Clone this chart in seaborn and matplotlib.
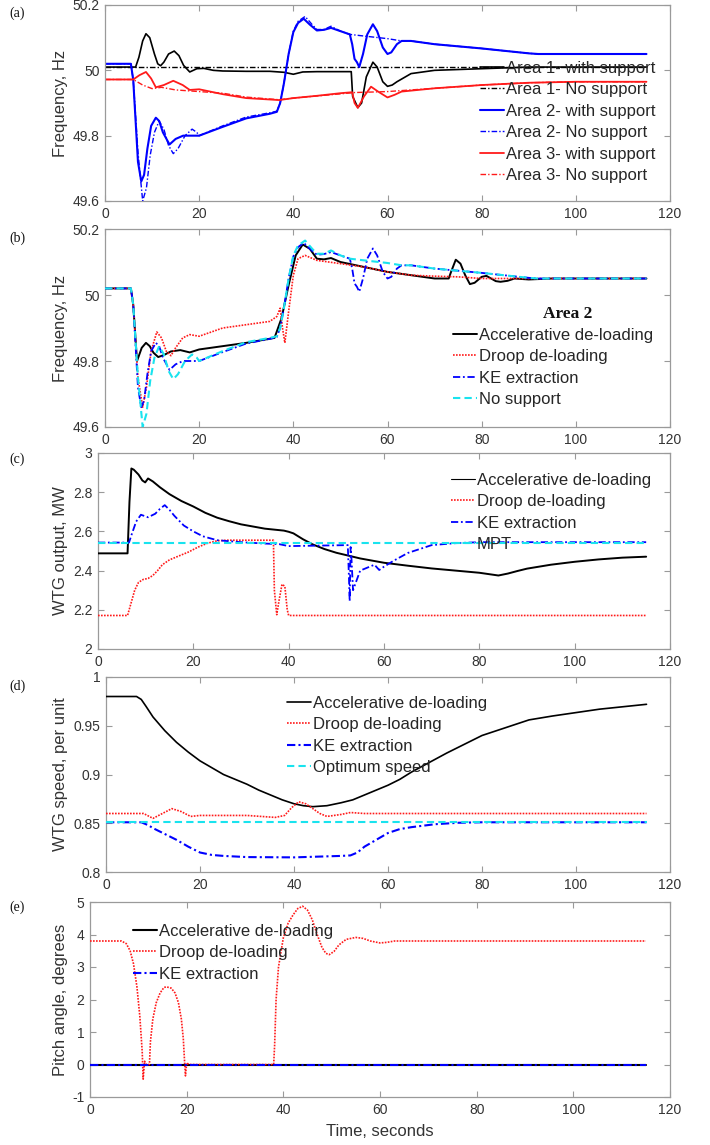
import matplotlib
matplotlib.use("Agg")
import matplotlib.pyplot as plt
import seaborn as sns

sns.set_style("white")
plt.rcParams["font.family"] = ["Liberation Sans", "DejaVu Sans"]

# ---------------- (a) frequency of the three areas ----------------
t_a1_with = [0, 6.5, 7.2, 8.0, 8.7, 9.5, 10.5, 11.2, 11.8, 12.5, 13.5, 14.7, 15.7, 16.7, 18, 19.5, 21, 23, 25,
             30, 35, 38, 40, 42, 45, 50, 52.3, 52.6, 53.7, 54.5, 55.5, 56.9, 57.8, 59, 60, 61, 62, 65, 70, 80,
             90, 115]
f_a1_with = [50.01, 50.01, 50.04, 50.09, 50.112, 50.10, 50.05, 50.02, 50.014, 50.025, 50.05, 50.059, 50.045,
             50.015, 49.995, 50.005, 50.006, 50.0, 49.998, 49.997, 49.997, 49.994, 49.988, 49.995, 49.996,
             49.996, 49.996, 49.92, 49.886, 49.90, 49.98, 50.025, 50.01, 49.965, 49.951, 49.955, 49.965,
             49.99, 50.0, 50.005, 50.01, 50.01]
t_a1_none = [0, 115]
f_a1_none = [50.01, 50.01]

t_a2_with = [0, 5.5, 6.0, 7.0, 7.7, 8.3, 9.0, 9.8, 10.8, 11.5, 12.3, 13.7, 15, 16.6, 18, 20, 25, 30, 35, 36.5,
             37.2, 38, 39, 40, 41, 42.2, 43.5, 45, 46.5, 48, 50, 52, 52.5, 53, 53.5, 54, 54.8, 55.7, 56.9,
             57.8, 59, 60, 60.8, 62, 63, 65, 70, 80, 90, 92, 115]
f_a2_with = [50.02, 50.02, 49.97, 49.72, 49.66, 49.68, 49.76, 49.83, 49.855, 49.845, 49.81, 49.773, 49.79,
             49.80, 49.80, 49.80, 49.827, 49.853, 49.867, 49.873, 49.90, 49.96, 50.05, 50.117, 50.145,
             50.158, 50.14, 50.122, 50.124, 50.13, 50.12, 50.11, 50.08, 50.035, 50.025, 50.01, 50.05,
             50.11, 50.141, 50.12, 50.07, 50.05, 50.055, 50.08, 50.09, 50.09, 50.08, 50.067, 50.052, 50.05,
             50.05]
t_a2_none = [0, 5.5, 6.0, 7.0, 8.0, 8.8, 9.6, 10.5, 11.5, 12.5, 13.5, 14.5, 15.5, 17, 18.5, 19.5, 20, 25, 30,
             35, 36.5, 37.2, 38, 39, 40, 41, 42.5, 44, 45, 46.5, 48, 50, 52, 55, 60, 63, 65, 70, 80, 90,
             92, 115]
f_a2_none = [50.02, 50.02, 49.97, 49.75, 49.60, 49.64, 49.74, 49.81, 49.845, 49.82, 49.77, 49.745, 49.76,
             49.80, 49.82, 49.81, 49.80, 49.83, 49.857, 49.87, 49.875, 49.90, 49.96, 50.05, 50.12, 50.15,
             50.165, 50.14, 50.125, 50.125, 50.135, 50.12, 50.11, 50.105, 50.097, 50.09, 50.09, 50.08,
             50.067, 50.052, 50.05, 50.05]

t_a3_with = [0, 6, 7.3, 8.7, 9.8, 10.8, 12.5, 14.5, 16.5, 18, 20, 25, 30, 37, 40, 45, 50, 52.5, 53.0, 53.7,
             55, 56.5, 58, 60, 61.5, 63, 70, 80, 90, 100, 115]
f_a3_with = [49.972, 49.972, 49.985, 49.995, 49.975, 49.948, 49.955, 49.968, 49.955, 49.94, 49.942, 49.927,
             49.915, 49.909, 49.915, 49.922, 49.93, 49.933, 49.90, 49.885, 49.92, 49.95, 49.935, 49.917,
             49.925, 49.935, 49.945, 49.955, 49.962, 49.965, 49.965]
t_a3_none = [0, 6, 8, 10, 12, 15, 20, 25, 30, 37, 40, 50, 53, 60, 70, 80, 90, 100, 115]
f_a3_none = [49.972, 49.972, 49.955, 49.944, 49.948, 49.94, 49.935, 49.93, 49.918, 49.91, 49.915, 49.928,
             49.932, 49.935, 49.945, 49.955, 49.962, 49.965, 49.965]

# ---------------- (b) area 2 frequency per control method ----------------
t_b_accel = [0, 5.5, 6.0, 6.8, 7.8, 8.7, 9.5, 10.3, 11.3, 12.5, 14, 16, 18, 20, 25, 30, 36, 37.5, 39, 40.5,
             42, 43.5, 45, 46.5, 48, 50, 55, 60, 65, 70, 73, 73.5, 74.5, 75.5, 76.5, 77.5, 78.5, 80, 81, 82,
             83, 84, 85.5, 87, 90, 95, 115]
f_b_accel = [50.02, 50.02, 49.97, 49.80, 49.84, 49.855, 49.845, 49.825, 49.812, 49.818, 49.829, 49.833,
             49.826, 49.835, 49.845, 49.855, 49.87, 49.93, 50.03, 50.12, 50.153, 50.14, 50.11, 50.108,
             50.112, 50.1, 50.085, 50.07, 50.06, 50.05, 50.05, 50.07, 50.107, 50.095, 50.06, 50.033,
             50.037, 50.055, 50.058, 50.05, 50.042, 50.04, 50.043, 50.05, 50.047, 50.05, 50.05]
t_b_droop = [0, 5.5, 6.0, 7.0, 8.0, 8.8, 9.8, 11, 12, 13, 14, 15, 16.5, 18, 20, 25, 30, 35, 36.5, 37.2, 37.7,
             38.2, 39, 40, 41, 42.5, 45, 50, 55, 60, 65, 70, 75, 80, 85, 115]
f_b_droop = [50.02, 50.02, 49.97, 49.75, 49.66, 49.72, 49.83, 49.888, 49.87, 49.83, 49.816, 49.84, 49.87,
             49.88, 49.875, 49.9, 49.91, 49.92, 49.935, 49.96, 49.90, 49.855, 49.95, 50.06, 50.11, 50.12,
             50.105, 50.095, 50.085, 50.07, 50.06, 50.057, 50.055, 50.05, 50.05, 50.05]

# ---------------- (c) WTG output power ----------------
t_c_accel = [0, 6.2, 6.6, 7.0, 7.5, 8.5, 9.3, 9.9, 10.5, 11.5, 13, 15, 17.5, 20, 22.5, 25, 27.5, 30, 35, 39,
             40, 41, 42, 43, 45, 47.5, 50, 55, 60, 65, 70, 75, 80, 82, 84, 86, 88, 90, 95, 100, 105, 110,
             115]
p_c_accel = [2.488, 2.488, 2.75, 2.921, 2.915, 2.89, 2.86, 2.85, 2.87, 2.855, 2.825, 2.79, 2.755, 2.727,
             2.695, 2.67, 2.652, 2.636, 2.614, 2.604, 2.598, 2.59, 2.575, 2.56, 2.534, 2.51, 2.491, 2.462,
             2.44, 2.425, 2.411, 2.40, 2.389, 2.382, 2.375, 2.385, 2.398, 2.41, 2.43, 2.445, 2.457, 2.466,
             2.471]
t_c_droop = [0, 6.2, 7, 7.7, 8.5, 9.5, 10.5, 11.5, 12.5, 13.5, 15, 17, 19, 21, 23, 25, 27, 36.8, 37.0, 37.5,
             38, 38.6, 39.2, 39.7, 40, 115]
p_c_droop = [2.171, 2.171, 2.24, 2.30, 2.34, 2.355, 2.36, 2.375, 2.40, 2.43, 2.455, 2.475, 2.495, 2.52,
             2.54, 2.552, 2.555, 2.555, 2.30, 2.175, 2.25, 2.33, 2.32, 2.20, 2.171, 2.171]
t_c_ke = [0, 6.5, 7, 8, 9, 10.5, 12, 13, 14, 15, 16, 18, 20, 22, 25, 30, 35, 38, 39, 40, 45, 52.4, 52.6,
          52.8, 53.0, 53.2, 53.5, 55, 57, 58, 59, 60, 62, 65, 70, 75, 80, 115]
p_c_ke = [2.543, 2.543, 2.58, 2.65, 2.685, 2.672, 2.69, 2.715, 2.734, 2.71, 2.68, 2.63, 2.60, 2.575, 2.555,
          2.545, 2.538, 2.535, 2.53, 2.525, 2.527, 2.53, 2.40, 2.244, 2.52, 2.45, 2.30, 2.40, 2.42, 2.43,
          2.403, 2.42, 2.45, 2.49, 2.53, 2.54, 2.545, 2.545]
t_c_mpt = [0, 115]
p_c_mpt = [2.543, 2.543]

# ---------------- (d) WTG rotor speed ----------------
t_d_accel = [0, 6.5, 7.5, 8.5, 10, 12.5, 15, 17.5, 20, 22.5, 25, 27.5, 30, 32.5, 35, 37.5, 40, 42, 44, 47,
             50, 52.5, 55, 57.5, 60, 62.5, 65, 67.5, 70, 72.5, 75, 77.5, 80, 82.5, 85, 87.5, 90, 92.5, 95,
             100, 105, 110, 115]
w_d_accel = [0.98, 0.98, 0.977, 0.97, 0.959, 0.945, 0.933, 0.923, 0.914, 0.907, 0.90, 0.895, 0.89, 0.884,
             0.879, 0.874, 0.870, 0.868, 0.867, 0.868, 0.871, 0.874, 0.879, 0.884, 0.889, 0.895, 0.9025,
             0.909, 0.9155, 0.922, 0.928, 0.934, 0.94, 0.944, 0.948, 0.952, 0.956, 0.958, 0.960, 0.9635,
             0.967, 0.9695, 0.972]
t_d_droop = [0, 8, 10, 12, 14, 16, 18, 20, 30, 36, 38, 39.5, 41, 42.5, 44, 45.5, 47, 50, 52, 55, 115]
w_d_droop = [0.86, 0.86, 0.855, 0.86, 0.865, 0.862, 0.857, 0.858, 0.858, 0.856, 0.858, 0.866, 0.872, 0.87,
             0.865, 0.86, 0.857, 0.859, 0.861, 0.86, 0.86]
t_d_ke = [0, 7.5, 9, 10, 12.5, 15, 17.5, 20, 22.5, 25, 30, 40, 50, 52, 53.5, 55, 57.5, 60, 62.5, 65, 70, 75,
          80, 115]
w_d_ke = [0.851, 0.851, 0.848, 0.845, 0.839, 0.833, 0.826, 0.82, 0.8175, 0.8165, 0.8153, 0.815, 0.8165,
          0.817, 0.82, 0.826, 0.833, 0.84, 0.844, 0.846, 0.849, 0.8505, 0.851, 0.851]
t_d_opt = [0, 115]
w_d_opt = [0.851, 0.851]

# ---------------- (e) pitch angle ----------------
t_e_droop = [0, 6.5, 7.5, 8.3, 9, 9.7, 10.3, 10.8, 11.0, 11.3, 11.6, 12.3, 12.5, 13, 13.7, 14.5, 15.3, 15.8,
             16.8, 17.6, 18.3, 18.9, 19.3, 19.6, 19.75, 20, 20.5, 38, 38.2, 38.5, 39, 40, 41, 42, 43, 44, 45,
             46, 47, 48, 48.8, 49.5, 50.5, 51.5, 53, 55, 56.5, 58, 60, 61.5, 63, 115]
b_e_droop = [3.8, 3.8, 3.72, 3.5, 3.1, 2.4, 1.5, 0.4, -0.45, 0.1, 0, 0, 0.7, 1.4, 1.9, 2.2, 2.37, 2.39,
             2.35, 2.2, 1.9, 1.4, 0.8, 0.0, -0.35, 0.05, 0, 0, 0.6, 2.0, 3.0, 3.9, 4.35, 4.6, 4.8, 4.87,
             4.75, 4.45, 4.0, 3.6, 3.42, 3.38, 3.48, 3.68, 3.85, 3.91, 3.88, 3.8, 3.74, 3.76, 3.8, 3.8]
t_e_zero = [0, 115]
b_e_accel = [0, 0]
b_e_ke = [0, 0]

# ---------------- axis ticks ----------------
x_ticks = [0, 20, 40, 60, 80, 100, 120]
x_tick_labels = ["0", "20", "40", "60", "80", "100", "120"]
freq_ticks = [49.6, 49.8, 50.0, 50.2]
freq_tick_labels = ["49.6", "49.8", "50", "50.2"]
power_ticks = [2.0, 2.2, 2.4, 2.6, 2.8, 3.0]
power_tick_labels = ["2", "2.2", "2.4", "2.6", "2.8", "3"]
speed_ticks = [0.8, 0.85, 0.9, 0.95, 1.0]
speed_tick_labels = ["0.8", "0.85", "0.9", "0.95", "1"]
pitch_ticks = [-1, 0, 1, 2, 3, 4, 5]
pitch_tick_labels = ["-1", "0", "1", "2", "3", "4", "5"]

# ---------------- styling ----------------
W, H = 710, 1145
BLACK = "#000000"
RED = "#ff1a1a"
BLUE = "#0000ff"
CYAN = "#19e3ee"
SOLID = "-"
DOTTED = (0, (1.0, 0.8))
DASHDOT = (0, (4.0, 1.5, 1.0, 1.5))
DASHED = (0, (3.5, 2.0))
SPINE = "#9a9a9a"
TXT = "#333333"

fig = plt.figure(figsize=(W / 100, H / 100), dpi=100)


def make_axes(left, top, right, bottom):
    return fig.add_axes([left / W, 1 - bottom / H, (right - left) / W, (bottom - top) / H])


def draw(ax, t, v, color, ls, lw, label, z=2):
    sns.lineplot(x=t, y=v, ax=ax, color=color, linestyle=ls, linewidth=lw, label=label,
                 estimator=None, sort=False, zorder=z)


def style(ax, left, width, yticks, ylabels, ylim, ylabel, legend_xy):
    ax.set_xlim(0, 120)
    ax.set_ylim(*ylim)
    ax.set_xticks(x_ticks)
    ax.set_xticklabels(x_tick_labels)
    ax.set_yticks(yticks)
    ax.set_yticklabels(ylabels)
    ax.tick_params(direction="in", length=4, width=0.8, color=SPINE, labelcolor=TXT, labelsize=10,
                   top=True, right=True, bottom=True, left=True, pad=4)
    for s in ax.spines.values():
        s.set_color(SPINE)
        s.set_linewidth(0.9)
    ax.set_xlabel("")
    ax.set_ylabel(ylabel, fontsize=12, color=TXT)
    ax.yaxis.set_label_coords((68 - left) / width, 0.5)
    ax.legend(loc="upper left", bbox_to_anchor=legend_xy, frameon=False, fontsize=12,
              handlelength=1.45, handletextpad=0.1, labelspacing=0.39, borderpad=0, borderaxespad=0)


# (a)
ax = make_axes(105, 5, 670, 201)
draw(ax, t_a1_with, f_a1_with, BLACK, SOLID, 1.2, "Area 1- with support")
draw(ax, t_a1_none, f_a1_none, BLACK, DASHDOT, 1.0, "Area 1- No support")
draw(ax, t_a2_with, f_a2_with, BLUE, SOLID, 1.5, "Area 2- with support")
draw(ax, t_a2_none, f_a2_none, BLUE, DASHDOT, 1.0, "Area 2- No support")
draw(ax, t_a3_with, f_a3_with, RED, SOLID, 1.3, "Area 3- with support")
draw(ax, t_a3_none, f_a3_none, RED, DASHDOT, 1.0, "Area 3- No support")
style(ax, 105, 565, freq_ticks, freq_tick_labels, (49.6, 50.2), "Frequency, Hz", (0.664, 0.716))

# (b)
ax = make_axes(105, 229, 670, 427)
draw(ax, t_b_accel, f_b_accel, BLACK, SOLID, 1.4, "Accelerative de-loading", 3)
draw(ax, t_b_droop, f_b_droop, RED, DOTTED, 1.2, "Droop de-loading", 3)
draw(ax, t_a2_with, f_a2_with, BLUE, DASHDOT, 1.3, "KE extraction", 3)
draw(ax, t_a2_none, f_a2_none, CYAN, DASHED, 1.5, "No support", 4)
style(ax, 105, 565, freq_ticks, freq_tick_labels, (49.6, 50.2), "Frequency, Hz", (0.616, 0.502))
ax.text(0.819, 0.571, "Area 2", transform=ax.transAxes, ha="center", va="center",
        fontsize=12.5, fontweight="bold", family=["Liberation Serif", "DejaVu Serif"], color="#111111")

# (c)
ax = make_axes(98, 453, 670, 649)
draw(ax, t_c_accel, p_c_accel, BLACK, SOLID, 1.4, "Accelerative de-loading", 3)
draw(ax, t_c_droop, p_c_droop, RED, DOTTED, 1.2, "Droop de-loading", 3)
draw(ax, t_c_ke, p_c_ke, BLUE, DASHDOT, 1.3, "KE extraction", 3)
draw(ax, t_c_mpt, p_c_mpt, CYAN, DASHED, 1.5, "MPT", 4)
style(ax, 98, 572, power_ticks, power_tick_labels, (2.0, 3.0), "WTG output, MW", (0.617, 0.900))
ax.get_legend().get_lines()[0].set_linewidth(0.8)

# (d)
ax = make_axes(106, 677, 670, 872)
draw(ax, t_d_accel, w_d_accel, BLACK, SOLID, 1.2, "Accelerative de-loading", 3)
draw(ax, t_d_droop, w_d_droop, RED, DOTTED, 1.2, "Droop de-loading", 3)
draw(ax, t_d_ke, w_d_ke, BLUE, DASHDOT, 1.5, "KE extraction", 3)
draw(ax, t_d_opt, w_d_opt, CYAN, DASHED, 1.5, "Optimum speed", 4)
style(ax, 106, 564, speed_ticks, speed_tick_labels, (0.8, 1.0), "WTG speed, per unit", (0.321, 0.905))

# (e)
ax = make_axes(90, 902, 670, 1097)
draw(ax, t_e_zero, b_e_accel, BLACK, SOLID, 1.5, "Accelerative de-loading", 3)
draw(ax, t_e_droop, b_e_droop, RED, DOTTED, 1.2, "Droop de-loading", 3)
draw(ax, t_e_zero, b_e_ke, BLUE, DASHDOT, 1.5, "KE extraction", 4)
style(ax, 90, 580, pitch_ticks, pitch_tick_labels, (-1, 5), "Pitch angle, degrees", (0.074, 0.889))
ax.set_xlabel("Time, seconds", fontsize=12, color=TXT, labelpad=5)

# panel letters
for letter, y in zip(["(a)", "(b)", "(c)", "(d)", "(e)"], [13, 238, 459, 686, 907]):
    fig.text(17 / W, 1 - y / H, letter, ha="center", va="center", fontsize=10,
             family=["Liberation Serif", "DejaVu Serif"], color="#111111")

fig.savefig("out.png", dpi=100)
